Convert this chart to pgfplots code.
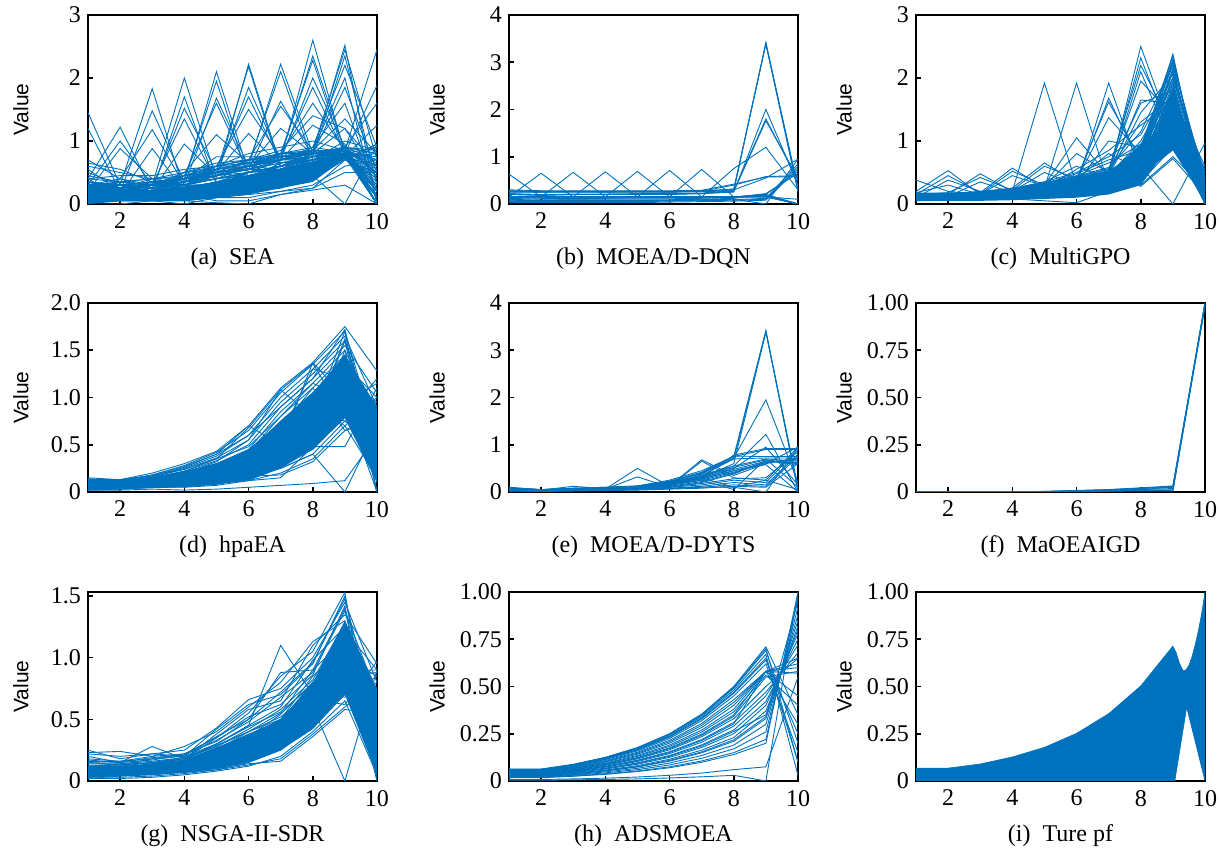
\documentclass[border=0pt]{standalone}
\usepackage{fontspec}
\setmainfont{Liberation Serif}
\newfontfamily\valfont{Liberation Sans}
\usepackage{pgfplots}
\usepackage{pgfplotstable}
\pgfplotsset{compat=1.18}
\definecolor{mblue}{RGB}{0,114,189}

% one row of each table = one solution, 10 objective values
\pgfplotstableread[header=false]{
0.30 0.20 0.15 0.20 0.30 0.40 0.50 0.70 0.80 0.50
0.10 0.15 0.10 0.15 0.20 0.30 0.40 0.50 0.75 0.80
0.50 0.30 0.20 0.30 0.40 0.60 0.70 0.80 0.85 0.20
0.05 0.10 0.05 0.10 0.15 0.20 0.30 0.40 0.70 0.95
0.70 0.40 0.30 0.20 0.35 0.50 0.60 0.75 0.80 0.00
0.20 0.30 0.35 0.40 0.50 0.55 0.65 0.75 0.78 0.40
0.40 0.10 0.20 0.35 0.45 0.70 0.75 0.80 0.90 0.10
0.15 0.05 0.10 0.05 0.10 0.15 0.20 0.30 0.60 0.70
0.60 0.50 0.40 0.50 0.60 0.65 0.70 0.90 0.82 0.30
0.25 0.20 0.30 0.25 0.25 0.30 0.35 0.50 0.75 0.60
0.00 0.10 0.15 0.20 0.25 0.35 0.45 0.60 0.80 0.90
0.35 0.25 0.10 0.15 0.05 0.05 0.15 0.25 0.70 0.50
0.10 0.20 0.25 0.30 0.40 0.50 0.55 0.65 0.85 0.00
0.45 0.35 0.30 0.45 0.55 0.60 0.80 0.85 0.80 0.75
0.20 0.15 0.20 0.10 0.20 0.25 0.30 0.45 0.78 0.20
0.05 0.05 0.05 0.05 0.02 0.00 0.15 0.22 0.30 0.00
0.30 0.40 0.25 0.40 0.75 0.75 0.75 0.80 0.80 0.00
0.15 0.25 0.40 0.30 0.30 0.45 0.60 0.70 1.00 0.85
0.55 0.20 0.15 0.25 0.35 0.40 0.50 0.60 0.70 0.95
0.00 0.00 0.05 0.10 0.10 0.20 0.25 0.45 0.00 0.95
0.25 0.30 0.10 0.20 0.30 0.50 0.60 0.70 0.75 0.45
0.40 0.45 0.45 0.55 0.60 0.80 0.90 1.00 0.85 0.65
0.10 0.05 0.15 0.10 0.15 0.25 0.35 0.55 0.80 0.35
0.65 0.55 0.35 0.40 0.45 0.50 0.55 0.65 0.72 0.15
0.20 0.10 0.05 0.00 0.10 0.10 0.20 0.25 0.50 0.50
0.30 0.20 0.30 0.50 0.65 0.70 0.70 0.75 0.78 0.10
1.45 0.30 0.20 0.30 0.40 0.50 0.60 0.70 0.80 0.20
1.20 0.20 0.30 0.20 0.30 0.40 0.50 0.60 0.90 0.50
0.40 1.22 0.20 0.25 0.35 0.45 0.55 0.70 0.80 0.00
0.30 1.00 0.30 0.30 0.30 0.50 0.70 0.80 0.90 0.70
0.20 0.88 0.40 0.30 0.40 0.50 0.60 0.75 0.80 0.30
0.20 0.30 1.83 0.20 0.30 0.40 0.60 0.70 0.80 0.10
0.30 0.20 1.48 0.35 0.40 0.45 0.55 0.80 0.85 0.60
0.10 0.40 1.18 0.30 0.20 0.50 0.60 0.70 0.75 0.00
0.25 0.15 0.88 0.20 0.30 0.40 0.50 0.60 0.70 0.90
0.30 0.20 0.30 2.00 0.40 0.50 0.60 0.70 0.80 0.20
0.20 0.30 0.20 1.70 0.30 0.45 0.55 0.65 0.85 0.55
0.10 0.15 0.25 1.52 0.50 0.40 0.65 0.75 0.80 0.00
0.35 0.25 0.30 1.35 0.35 0.50 0.60 0.80 0.90 0.80
0.15 0.30 0.20 0.95 0.45 0.55 0.55 0.70 0.75 0.40
0.20 0.25 0.30 0.35 2.10 0.50 0.60 0.70 0.80 0.10
0.30 0.20 0.25 0.40 1.95 0.40 0.65 0.75 0.85 0.70
0.10 0.30 0.35 0.30 1.68 0.60 0.55 0.80 0.80 0.00
0.25 0.15 0.20 0.45 1.60 0.50 0.70 0.70 0.90 0.50
0.40 0.35 0.30 0.50 1.10 0.65 0.70 0.85 0.80 0.25
0.20 0.30 0.25 0.35 0.40 2.22 0.60 0.70 0.80 0.00
0.30 0.25 0.35 0.30 0.50 2.18 0.55 0.75 0.85 0.60
0.15 0.20 0.30 0.40 0.45 1.85 0.70 0.80 0.80 0.30
0.35 0.30 0.20 0.30 0.55 1.70 0.65 0.70 0.90 0.85
0.25 0.35 0.40 0.45 0.60 1.50 0.75 0.80 0.75 0.10
0.20 0.30 0.25 0.40 0.50 1.12 0.60 0.85 0.80 0.45
0.30 0.25 0.30 0.35 0.50 0.60 2.22 0.80 0.85 0.00
0.20 0.35 0.25 0.40 0.55 0.65 2.10 0.70 0.80 0.70
0.25 0.20 0.35 0.30 0.45 0.55 1.63 0.75 0.90 0.20
0.35 0.30 0.20 0.45 0.60 0.70 1.55 0.85 0.85 0.55
0.15 0.25 0.30 0.35 0.50 0.60 1.20 0.80 0.80 0.90
0.30 0.20 0.25 0.40 0.50 0.60 0.70 2.60 0.80 0.00
0.25 0.30 0.35 0.30 0.55 0.65 0.75 2.35 0.85 0.50
0.20 0.25 0.30 0.45 0.50 0.70 0.80 2.28 0.75 0.20
0.35 0.20 0.25 0.35 0.45 0.55 0.70 2.00 0.90 0.80
0.30 0.35 0.40 0.40 0.60 0.60 0.75 1.85 0.80 0.10
0.20 0.30 0.20 0.50 0.55 0.65 0.80 1.60 0.85 0.60
0.25 0.20 0.30 0.35 0.50 0.70 0.85 1.40 1.20 0.40
0.30 0.25 0.35 0.40 0.45 0.60 0.70 1.25 0.95 0.00
0.20 0.30 0.25 0.35 0.50 0.60 0.70 0.80 2.52 0.00
0.30 0.25 0.30 0.40 0.55 0.65 0.75 0.85 2.45 0.70
0.25 0.20 0.35 0.30 0.45 0.55 0.65 0.75 2.35 0.30
0.35 0.30 0.25 0.45 0.60 0.70 0.80 0.90 2.20 0.90
0.20 0.35 0.30 0.35 0.50 0.60 0.70 0.85 2.00 0.00
0.30 0.20 0.20 0.40 0.55 0.65 0.75 0.80 1.85 0.50
0.25 0.30 0.35 0.30 0.45 0.60 0.70 0.90 1.60 0.20
0.20 0.25 0.30 0.45 0.50 0.55 0.80 0.85 1.35 0.80
0.30 0.30 0.25 0.35 0.60 0.70 0.75 0.80 1.20 0.60
0.20 0.30 0.25 0.30 0.45 0.55 0.70 0.80 0.85 2.45
0.30 0.20 0.35 0.40 0.50 0.60 0.75 0.85 0.80 1.88
0.25 0.35 0.30 0.35 0.55 0.65 0.70 0.75 0.90 1.60
0.20 0.25 0.20 0.45 0.50 0.60 0.80 0.80 0.75 1.25
}\tA

\pgfplotstableread[header=false]{
0.28 0.27 0.27 0.27 0.27 0.27 0.28 0.30 0.55 0.95
0.27 0.26 0.26 0.26 0.26 0.26 0.27 0.40 0.58 0.60
0.30 0.28 0.28 0.28 0.28 0.28 0.29 0.42 0.57 0.58
0.25 0.25 0.25 0.25 0.25 0.25 0.26 0.28 3.42 0.30
0.27 0.26 0.27 0.26 0.27 0.26 0.28 0.30 3.40 0.35
0.26 0.25 0.26 0.25 0.26 0.25 0.27 0.32 3.38 0.25
0.63 0.15 0.15 0.15 0.15 0.15 0.15 0.15 0.15 0.00
0.15 0.65 0.15 0.15 0.15 0.15 0.15 0.15 0.20 0.00
0.15 0.15 0.67 0.15 0.15 0.15 0.15 0.15 0.20 0.00
0.15 0.15 0.15 0.68 0.15 0.15 0.15 0.15 0.18 0.00
0.15 0.15 0.15 0.15 0.69 0.15 0.15 0.15 0.17 0.00
0.15 0.15 0.15 0.15 0.15 0.71 0.15 0.15 0.16 0.00
0.15 0.15 0.15 0.15 0.15 0.15 0.73 0.15 0.15 0.00
0.15 0.15 0.15 0.15 0.15 0.15 0.15 0.75 1.20 0.30
0.20 0.18 0.20 0.20 0.20 0.20 0.22 0.25 2.00 0.40
0.22 0.20 0.21 0.21 0.22 0.22 0.23 0.28 1.80 0.50
0.21 0.19 0.20 0.20 0.21 0.21 0.22 0.27 1.76 0.55
0.10 0.08 0.09 0.09 0.09 0.09 0.10 0.12 0.20 0.70
0.05 0.05 0.05 0.05 0.05 0.06 0.07 0.08 0.10 0.80
0.08 0.07 0.07 0.07 0.07 0.08 0.09 0.10 0.00 0.95
0.12 0.10 0.10 0.11 0.11 0.11 0.12 0.14 0.22 0.65
0.03 0.03 0.03 0.03 0.03 0.04 0.05 0.06 0.08 0.75
0.14 0.12 0.12 0.12 0.13 0.13 0.14 0.15 0.15 0.10
0.07 0.06 0.06 0.06 0.07 0.07 0.08 0.09 0.12 0.85
}\tB

\pgfplotstableread[header=false]{
0.38 0.20 0.15 0.15 0.20 0.25 0.30 0.50 1.20 0.30
0.20 0.53 0.15 0.18 0.22 0.28 0.35 0.60 1.50 0.10
0.15 0.45 0.18 0.20 0.25 0.30 0.40 0.70 1.80 0.00
0.10 0.38 0.20 0.22 0.28 0.35 0.45 0.80 2.00 0.20
0.18 0.30 0.15 0.25 0.30 0.40 0.50 0.90 2.20 0.40
0.12 0.15 0.48 0.20 0.25 0.30 0.35 0.55 1.60 0.05
0.15 0.18 0.42 0.22 0.28 0.35 0.45 0.65 1.70 0.30
0.10 0.12 0.35 0.18 0.22 0.28 0.30 0.45 1.40 0.50
0.14 0.15 0.18 0.57 0.25 0.30 0.40 0.60 1.90 0.00
0.12 0.14 0.16 0.52 0.30 0.35 0.45 0.70 2.10 0.25
0.10 0.12 0.15 0.45 0.28 0.32 0.38 0.50 1.30 0.45
0.15 0.16 0.18 0.20 1.92 0.30 0.35 0.50 1.60 0.10
0.12 0.15 0.20 0.25 0.65 0.35 0.45 0.75 2.38 0.00
0.14 0.13 0.17 0.22 0.60 0.40 0.50 0.90 2.30 0.20
0.10 0.12 0.15 0.20 0.50 0.30 0.40 0.80 2.10 0.35
0.12 0.14 0.16 0.20 0.25 1.92 0.30 0.45 1.50 0.15
0.15 0.13 0.18 0.22 0.30 1.05 0.45 0.70 1.95 0.05
0.10 0.12 0.15 0.18 0.28 0.80 0.50 0.85 2.25 0.30
0.13 0.14 0.17 0.24 0.35 0.60 0.40 0.65 1.75 0.50
0.12 0.14 0.15 0.20 0.25 0.30 1.92 0.50 1.40 0.00
0.10 0.12 0.16 0.22 0.30 0.35 1.68 0.60 1.85 0.25
0.14 0.15 0.18 0.24 0.32 0.40 1.62 0.70 2.00 0.40
0.12 0.13 0.15 0.20 0.28 0.38 1.37 0.80 2.15 0.10
0.11 0.12 0.14 0.19 0.26 0.33 1.00 0.90 1.65 0.60
0.13 0.14 0.17 0.22 0.30 0.40 0.80 0.55 1.30 0.20
0.12 0.14 0.16 0.20 0.28 0.35 0.45 2.50 1.10 0.00
0.10 0.13 0.15 0.22 0.30 0.38 0.50 2.32 1.00 0.30
0.14 0.15 0.18 0.24 0.32 0.42 0.55 2.20 1.20 0.15
0.12 0.12 0.16 0.20 0.26 0.36 0.48 2.10 0.90 0.50
0.11 0.14 0.17 0.23 0.30 0.40 0.52 1.95 1.40 0.05
0.13 0.15 0.15 0.21 0.28 0.37 0.46 1.65 1.60 0.35
0.12 0.13 0.16 0.22 0.31 0.39 0.50 1.60 1.80 0.10
0.10 0.12 0.14 0.19 0.27 0.35 0.44 1.45 2.05 0.25
0.14 0.14 0.17 0.23 0.29 0.41 0.53 1.30 1.70 0.45
0.12 0.15 0.18 0.24 0.33 0.43 0.56 1.15 2.20 0.00
0.11 0.13 0.15 0.20 0.27 0.34 0.45 1.00 1.90 0.20
0.13 0.14 0.16 0.21 0.29 0.38 0.48 0.90 2.35 0.10
0.12 0.12 0.15 0.19 0.25 0.32 0.42 0.70 2.28 0.30
0.10 0.13 0.17 0.22 0.31 0.40 0.52 0.60 1.50 0.55
0.14 0.15 0.18 0.25 0.34 0.44 0.58 0.50 1.35 0.40
0.12 0.14 0.16 0.20 0.27 0.36 0.46 0.40 1.05 0.00
0.11 0.12 0.15 0.18 0.24 0.30 0.38 0.35 0.90 0.60
0.13 0.15 0.17 0.22 0.30 0.39 0.50 0.30 0.75 0.25
0.12 0.13 0.16 0.21 0.28 0.37 0.47 0.28 0.72 0.15
0.05 0.06 0.07 0.08 0.05 0.02 0.20 0.45 1.10 0.50
0.08 0.09 0.10 0.12 0.15 0.20 0.25 0.60 0.00 0.97
0.10 0.11 0.13 0.18 0.25 0.55 0.85 1.25 1.60 0.30
0.13 0.14 0.18 0.24 0.35 0.50 0.75 1.10 2.00 0.50
0.12 0.12 0.15 0.20 0.30 0.45 0.65 0.95 1.75 0.00
0.14 0.15 0.17 0.22 0.32 0.48 0.70 0.85 2.10 0.20
}\tC

\pgfplotstableread[header=false]{
0.15 0.13 0.20 0.30 0.43 0.70 1.10 1.37 1.75 1.28
0.14 0.12 0.18 0.28 0.42 0.65 1.05 1.35 1.70 0.00
0.13 0.13 0.17 0.25 0.38 0.60 1.00 1.30 1.65 0.90
0.12 0.11 0.16 0.24 0.36 0.55 0.95 1.25 1.60 0.50
0.10 0.10 0.15 0.22 0.33 0.50 0.90 1.20 1.55 1.05
0.11 0.12 0.14 0.21 0.30 0.45 0.85 1.15 1.50 0.20
0.09 0.09 0.13 0.20 0.28 0.42 0.80 1.10 1.45 0.80
0.08 0.10 0.12 0.19 0.27 0.40 0.75 1.05 1.40 0.00
0.10 0.08 0.12 0.18 0.26 0.38 0.70 1.00 1.35 1.00
0.07 0.09 0.11 0.17 0.25 0.36 0.65 0.95 1.30 0.60
0.06 0.07 0.10 0.16 0.24 0.34 0.60 0.90 1.25 0.30
0.09 0.08 0.11 0.15 0.22 0.32 0.55 0.85 1.20 0.95
0.05 0.06 0.09 0.14 0.21 0.30 0.50 0.80 1.15 0.10
0.08 0.07 0.10 0.13 0.20 0.28 0.48 0.75 1.10 0.70
0.04 0.05 0.08 0.12 0.18 0.26 0.45 0.70 1.05 0.40
0.07 0.06 0.09 0.11 0.17 0.25 0.42 0.65 1.00 0.85
0.03 0.04 0.07 0.10 0.15 0.23 0.40 0.60 0.95 0.00
0.06 0.05 0.08 0.09 0.14 0.22 0.38 0.55 0.90 0.65
0.02 0.03 0.06 0.08 0.12 0.20 0.35 0.50 0.85 0.25
0.05 0.04 0.07 0.07 0.10 0.18 0.30 0.45 0.80 0.90
0.03 0.03 0.05 0.06 0.08 0.15 0.25 0.40 0.75 0.45
0.02 0.03 0.05 0.05 0.07 0.12 0.20 0.35 0.70 0.15
0.04 0.04 0.06 0.08 0.11 0.17 0.18 0.32 0.65 0.75
0.02 0.02 0.03 0.02 0.03 0.05 0.07 0.09 0.12 0.60
0.05 0.05 0.06 0.08 0.10 0.12 0.15 0.48 0.48 1.10
0.06 0.06 0.08 0.10 0.13 0.18 0.25 0.40 0.00 0.70
0.12 0.12 0.17 0.26 0.40 0.70 0.50 1.37 1.00 0.30
0.10 0.11 0.15 0.22 0.35 0.68 1.08 0.80 1.70 0.55
0.11 0.10 0.14 0.20 0.32 0.55 1.08 1.36 0.80 1.20
0.13 0.12 0.18 0.27 0.40 0.60 0.90 1.20 1.72 0.35
0.09 0.10 0.13 0.19 0.28 0.40 0.60 1.30 1.20 0.75
0.08 0.09 0.12 0.18 0.25 0.35 0.55 0.70 1.60 0.10
0.07 0.08 0.11 0.16 0.23 0.30 0.45 0.62 1.50 0.80
0.10 0.09 0.12 0.17 0.24 0.32 0.52 0.85 1.40 0.00
0.06 0.07 0.10 0.14 0.20 0.28 0.40 0.75 1.62 0.50
0.09 0.10 0.13 0.18 0.26 0.37 0.62 0.95 0.70 1.00
0.08 0.08 0.11 0.15 0.22 0.33 0.58 0.88 0.75 0.90
0.11 0.11 0.15 0.21 0.30 0.42 0.68 1.10 0.65 0.85
0.12 0.13 0.17 0.24 0.35 0.48 0.80 1.15 1.00 0.95
0.05 0.06 0.09 0.13 0.19 0.27 0.43 0.68 0.95 1.15
}\tD

\pgfplotstableread[header=false]{
0.10 0.05 0.08 0.10 0.12 0.20 0.40 0.75 3.42 0.00
0.08 0.05 0.07 0.09 0.11 0.18 0.35 0.70 3.40 0.10
0.06 0.04 0.06 0.08 0.10 0.15 0.30 0.60 3.38 0.05
0.07 0.05 0.07 0.09 0.12 0.22 0.38 0.72 1.95 0.20
0.06 0.04 0.06 0.08 0.10 0.20 0.33 0.55 1.22 0.00
0.05 0.03 0.05 0.07 0.09 0.18 0.30 0.50 0.95 0.15
0.09 0.05 0.08 0.10 0.13 0.25 0.45 0.75 0.90 0.90
0.08 0.04 0.07 0.09 0.12 0.23 0.42 0.76 0.75 0.75
0.07 0.05 0.06 0.08 0.11 0.21 0.40 0.70 0.72 0.72
0.06 0.04 0.06 0.08 0.10 0.19 0.36 0.55 0.70 0.65
0.05 0.03 0.05 0.07 0.09 0.17 0.33 0.52 0.68 0.60
0.04 0.03 0.05 0.07 0.08 0.15 0.30 0.48 0.65 0.62
0.06 0.04 0.06 0.07 0.09 0.16 0.28 0.45 0.62 0.70
0.05 0.04 0.05 0.07 0.08 0.14 0.25 0.42 0.60 0.95
0.05 0.03 0.05 0.06 0.50 0.12 0.22 0.40 0.63 0.68
0.04 0.03 0.04 0.06 0.32 0.10 0.20 0.38 0.66 0.58
0.05 0.04 0.12 0.07 0.09 0.13 0.68 0.35 0.60 0.72
0.04 0.03 0.05 0.06 0.08 0.12 0.65 0.30 0.25 0.95
0.03 0.02 0.04 0.05 0.07 0.11 0.18 0.28 0.30 0.85
0.04 0.03 0.04 0.05 0.06 0.10 0.15 0.25 0.20 0.90
0.03 0.02 0.03 0.04 0.05 0.08 0.12 0.20 0.15 0.80
0.02 0.02 0.03 0.04 0.05 0.07 0.10 0.15 0.12 0.75
0.02 0.01 0.02 0.03 0.04 0.06 0.08 0.12 0.10 0.60
0.03 0.02 0.03 0.04 0.05 0.08 0.10 0.10 0.00 0.95
0.05 0.03 0.05 0.07 0.09 0.16 0.30 0.78 0.92 0.92
0.06 0.04 0.06 0.08 0.10 0.18 0.30 0.10 0.25 0.05
0.04 0.03 0.05 0.06 0.08 0.14 0.25 0.05 0.70 0.10
0.05 0.04 0.05 0.07 0.09 0.15 0.27 0.45 0.58 0.00
}\tE

\pgfplotstableread[header=false]{
0.000 0.000 0.000 0.000 0.003 0.008 0.013 0.022 0.032 1.000
0.000 0.000 0.000 0.000 0.002 0.006 0.010 0.018 0.025 0.990
0.000 0.000 0.000 0.000 0.002 0.005 0.008 0.014 0.018 1.000
0.000 0.000 0.000 0.000 0.001 0.004 0.006 0.010 0.012 0.980
0.000 0.000 0.000 0.000 0.001 0.003 0.005 0.008 0.008 1.000
0.002 0.002 0.002 0.002 0.003 0.004 0.006 0.010 0.030 0.990
0.000 0.000 0.000 0.000 0.000 0.002 0.004 0.006 0.005 1.000
0.001 0.001 0.001 0.001 0.002 0.007 0.012 0.020 0.028 0.985
}\tF

\pgfplotstableread[header=false]{
0.25 0.18 0.22 0.20 0.30 0.45 1.10 0.70 1.20 0.40
0.23 0.24 0.20 0.22 0.32 0.50 0.88 0.90 1.40 0.10
0.20 0.15 0.28 0.18 0.35 0.55 0.85 1.05 1.53 0.00
0.18 0.16 0.20 0.28 0.40 0.60 0.80 1.13 1.30 0.50
0.22 0.20 0.22 0.25 0.43 0.66 0.75 1.00 1.45 0.80
0.15 0.13 0.18 0.20 0.42 0.62 0.70 0.95 1.50 0.20
0.12 0.12 0.15 0.18 0.38 0.58 0.65 1.10 1.35 0.95
0.10 0.11 0.14 0.17 0.30 0.45 0.60 0.98 1.25 0.60
0.08 0.10 0.12 0.15 0.25 0.40 0.55 0.90 1.15 0.30
0.06 0.08 0.10 0.13 0.22 0.35 0.50 0.85 1.10 0.75
0.05 0.07 0.09 0.12 0.20 0.32 0.45 0.80 1.05 0.00
0.04 0.06 0.08 0.11 0.18 0.30 0.42 0.75 1.00 0.85
0.03 0.05 0.07 0.10 0.16 0.28 0.40 0.70 0.95 0.45
0.02 0.04 0.06 0.09 0.14 0.25 0.38 0.65 0.90 0.90
0.10 0.09 0.10 0.12 0.15 0.22 0.35 0.60 0.85 0.15
0.08 0.10 0.11 0.14 0.12 0.20 0.32 0.55 0.80 0.65
0.06 0.07 0.09 0.10 0.10 0.18 0.30 0.50 0.75 0.35
0.05 0.05 0.06 0.07 0.09 0.15 0.25 0.45 0.70 0.70
0.02 0.02 0.03 0.05 0.08 0.12 0.20 0.40 0.65 0.05
0.03 0.03 0.04 0.06 0.09 0.13 0.18 0.38 0.60 0.80
0.04 0.04 0.05 0.07 0.10 0.14 0.16 0.36 0.58 0.55
0.14 0.14 0.16 0.19 0.28 0.42 0.58 0.82 1.28 0.25
0.16 0.15 0.17 0.21 0.33 0.48 0.68 0.88 1.38 0.70
0.12 0.13 0.15 0.19 0.29 0.40 0.52 0.72 1.22 0.90
0.09 0.10 0.12 0.16 0.26 0.38 0.48 0.68 1.18 0.10
0.07 0.08 0.10 0.13 0.22 0.33 0.44 0.62 1.08 0.60
0.11 0.12 0.13 0.17 0.27 0.37 0.47 0.66 0.62 0.97
0.13 0.13 0.15 0.18 0.28 0.40 0.50 0.70 0.68 0.85
0.08 0.09 0.11 0.14 0.22 0.32 0.43 0.60 0.00 0.90
0.06 0.07 0.09 0.12 0.20 0.30 0.42 0.58 0.85 0.88
0.10 0.11 0.12 0.15 0.24 0.34 0.46 0.64 0.72 0.65
0.12 0.14 0.14 0.18 0.30 0.44 0.56 0.78 0.92 0.40
0.15 0.16 0.18 0.22 0.35 0.52 0.62 0.86 1.42 0.20
0.17 0.15 0.19 0.21 0.36 0.50 0.72 0.96 1.48 0.45
0.09 0.08 0.11 0.13 0.23 0.36 0.54 0.80 1.12 0.75
}\tG

\pgfplotstableread[header=false]{
0.063 0.063 0.088 0.125 0.177 0.250 0.354 0.500 0.710 0.35
0.061 0.061 0.086 0.123 0.173 0.245 0.347 0.490 0.690 0.20
0.060 0.060 0.085 0.120 0.170 0.240 0.340 0.480 0.670 0.03
0.059 0.059 0.083 0.118 0.166 0.235 0.333 0.470 0.650 0.10
0.056 0.056 0.079 0.113 0.159 0.225 0.319 0.450 0.620 0.15
0.054 0.054 0.076 0.108 0.152 0.215 0.304 0.430 0.580 0.45
0.050 0.050 0.070 0.100 0.142 0.200 0.283 0.400 0.580 0.60
0.048 0.048 0.067 0.095 0.135 0.190 0.269 0.380 0.580 0.57
0.044 0.044 0.062 0.088 0.124 0.175 0.248 0.350 0.580 0.62
0.041 0.041 0.058 0.083 0.117 0.165 0.234 0.330 0.500 0.65
0.039 0.039 0.055 0.078 0.110 0.155 0.219 0.310 0.470 0.68
0.036 0.036 0.051 0.073 0.103 0.145 0.205 0.290 0.450 0.72
0.034 0.034 0.048 0.068 0.096 0.135 0.191 0.270 0.420 0.75
0.031 0.031 0.044 0.063 0.089 0.125 0.177 0.250 0.400 0.78
0.029 0.029 0.040 0.058 0.081 0.115 0.163 0.230 0.370 0.80
0.026 0.026 0.037 0.053 0.074 0.105 0.149 0.210 0.330 0.85
0.024 0.024 0.033 0.048 0.067 0.095 0.135 0.190 0.300 0.88
0.021 0.021 0.030 0.043 0.060 0.085 0.120 0.170 0.260 0.92
0.019 0.019 0.026 0.038 0.053 0.075 0.106 0.150 0.220 0.97
0.018 0.018 0.025 0.035 0.050 0.070 0.099 0.140 0.200 1.00
0.008 0.008 0.011 0.015 0.021 0.030 0.042 0.060 0.075 0.55
0.004 0.004 0.006 0.008 0.011 0.016 0.022 0.030 0.000 1.00
0.052 0.052 0.073 0.104 0.147 0.208 0.294 0.416 0.580 0.30
0.046 0.046 0.065 0.092 0.130 0.183 0.259 0.366 0.560 0.40
0.058 0.058 0.082 0.116 0.164 0.232 0.328 0.464 0.640 0.25
0.043 0.043 0.060 0.086 0.121 0.171 0.242 0.342 0.550 0.58
0.038 0.038 0.053 0.076 0.107 0.151 0.214 0.302 0.580 0.65
0.033 0.033 0.046 0.066 0.093 0.131 0.185 0.262 0.350 0.82
0.062 0.062 0.087 0.124 0.175 0.248 0.350 0.495 0.700 0.10
0.027 0.027 0.038 0.055 0.077 0.109 0.154 0.218 0.340 0.95
}\tH

% draw every row of a table as one polyline over x = 1..10
\newcommand{\pclines}[1]{%
  \pgfplotstabletranspose{\pcT}{#1}%
  \pgfplotstablegetcolsof{\pcT}%
  \pgfmathtruncatemacro\pcN{\pgfplotsretval-1}%
  \pgfplotsforeachungrouped \pci in {1,...,\pcN}{%
    \edef\pcdo{\noexpand\addplot[pcl] table[x expr=\noexpand\coordindex+1,y index=\pci]{\noexpand\pcT};}%
    \pcdo
  }%
}

\pgfplotsset{
  pcl/.style={mblue, line width=0.45pt, mark=none},
  pcf/.style={fill=mblue, draw=none},
  pc/.style={
    width=144.5pt, height=94.5pt, scale only axis,
    xmin=1, xmax=10, ymin=0,
    xtick={2,4,6,8,10}, xticklabels={\textrm{2},\textrm{4},\textrm{6},\textrm{8},\textrm{10}},
    tick pos=left, tick align=inside, major tick length=2.5pt,
    axis line style={line width=1pt},
    every tick/.style={black, line width=0.8pt},
    tick label style={font=\rmfamily\fontsize{12}{12}\selectfont},
    xticklabel style={yshift=-1pt},
    ylabel={\valfont Value},
    every axis y label/.style={at={(axis description cs:-0.249,0.5)}, anchor=center, rotate=90, font=\fontsize{10.5}{12}\selectfont},
    every axis title/.style={at={(axis description cs:0.5,-0.291)}, anchor=center, font=\fontsize{12}{12}\selectfont},
  },
  col1/.style={every axis y label/.append style={at={(axis description cs:-0.232,0.5)}}},
  yl/.style={yticklabels={\textrm{0},\textrm{1},\textrm{2},\textrm{3},\textrm{4}}},
  yq/.style={ytick={0,0.25,0.5,0.75,1}, yticklabels={\textrm{0},\textrm{0.25},\textrm{0.50},\textrm{0.75},\textrm{1.00}}},
}

\begin{document}
\begin{tikzpicture}
\path[use as bounding box] (0,0) rectangle (611pt,427pt);

% (a)
\begin{axis}[pc, col1, at={(44pt,325pt)}, anchor=south west,
  ymax=3, ytick={0,1,2,3}, yl, title={(a)\ \ SEA}]
\addplot[pcf] coordinates {(1,0.30)(2,0.25)(3,0.22)(4,0.28)(5,0.35)(6,0.45)(7,0.55)(8,0.68)(9,0.80)
  (9,0.72)(8,0.35)(7,0.25)(6,0.15)(5,0.10)(4,0.05)(3,0.05)(2,0.04)(1,0.00)};
\pclines{\tA}
\end{axis}

% (b)
\begin{axis}[pc, at={(254.5pt,325pt)}, anchor=south west,
  ymax=4, ytick={0,1,2,3,4}, yl, title={(b)\ \ MOEA/D-DQN}]
\pclines{\tB}
\end{axis}

% (c)
\begin{axis}[pc, at={(458pt,325pt)}, anchor=south west,
  ymax=3, ytick={0,1,2,3}, yl, title={(c)\ \ MultiGPO}]
\addplot[pcf] coordinates {(1,0.18)(2,0.18)(3,0.20)(4,0.25)(5,0.30)(6,0.38)(7,0.48)(8,0.95)(8.5,1.15)(9,1.85)(9.5,1.0)(10,0.35)
  (10,0.02)(9.5,0.45)(9,0.85)(8.5,0.65)(8,0.30)(7,0.15)(6,0.10)(5,0.08)(4,0.06)(3,0.05)(2,0.05)(1,0.05)};
\pclines{\tC}
\end{axis}

% (d)
\begin{axis}[pc, col1, at={(44pt,181pt)}, anchor=south west,
  ymax=2, ytick={0,0.5,1,1.5,2}, yticklabels={\textrm{0},\textrm{0.5},\textrm{1.0},\textrm{1.5},\textrm{2.0}}, title={(d)\ \ hpaEA}]
\addplot[pcf] coordinates {(1,0.12)(2,0.12)(3,0.16)(4,0.22)(5,0.30)(6,0.45)(7,0.75)(8,1.05)(9,1.45)(10,0.90)
  (10,0.10)(9,0.78)(8,0.45)(7,0.25)(6,0.12)(5,0.08)(4,0.05)(3,0.04)(2,0.03)(1,0.03)};
\pclines{\tD}
\end{axis}

% (e)
\begin{axis}[pc, at={(254.5pt,181pt)}, anchor=south west,
  ymax=4, ytick={0,1,2,3,4}, yl, title={(e)\ \ MOEA/D-DYTS}]
\pclines{\tE}
\end{axis}

% (f)
\begin{axis}[pc, at={(458pt,181pt)}, anchor=south west,
  ymax=1, yq, title={(f)\ \ MaOEAIGD}]
\pclines{\tF}
\end{axis}

% (g)
\begin{axis}[pc, col1, at={(44pt,36.5pt)}, anchor=south west,
  ymax=1.533, ytick={0,0.5,1,1.5}, yticklabels={\textrm{0},\textrm{0.5},\textrm{1.0},\textrm{1.5}}, title={(g)\ \ NSGA-II-SDR}]
\addplot[pcf] coordinates {(1,0.12)(2,0.12)(3,0.14)(4,0.17)(5,0.27)(6,0.38)(7,0.50)(8,0.80)(9,1.30)(10,0.75)
  (10,0.05)(9,0.70)(8,0.42)(7,0.25)(6,0.15)(5,0.10)(4,0.07)(3,0.05)(2,0.04)(1,0.03)};
\pclines{\tG}
\end{axis}

% (h)
\begin{axis}[pc, at={(254.5pt,36.5pt)}, anchor=south west,
  ymax=1, yq, title={(h)\ \ ADSMOEA}]
\pclines{\tH}
\end{axis}

% (i) true front: dense enough to read as a solid area
\begin{axis}[pc, at={(458pt,36.5pt)}, anchor=south west,
  ymax=1, yq, title={(i)\ \ Ture pf}]
\addplot[fill=mblue, draw=mblue, line width=0.3pt] coordinates {
  (1,0.068)(2,0.068)(3,0.090)(4,0.127)(5,0.178)(6,0.252)(7,0.356)(8,0.503)(9,0.714)
  (9.1,0.68)(9.2,0.625)(9.3,0.588)(9.34,0.582)(9.4,0.587)(9.5,0.612)(9.6,0.66)(9.7,0.725)(9.8,0.80)(9.9,0.89)(10,1.0)
  (10,0)(9.43,0.39)(9.06,0)(1,0)};
\end{axis}
\end{tikzpicture}
\end{document}
